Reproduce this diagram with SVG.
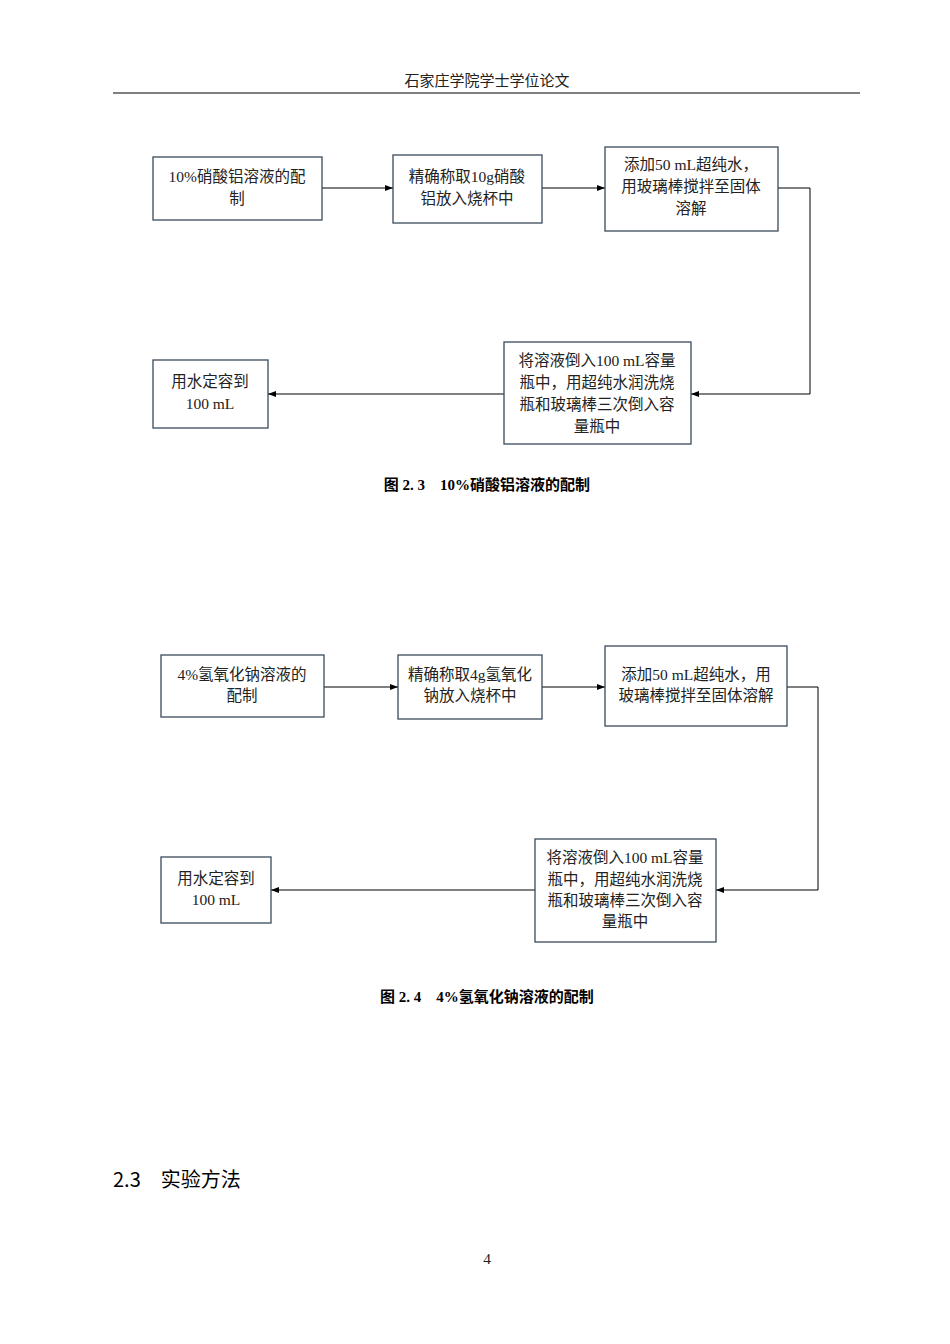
<svg xmlns="http://www.w3.org/2000/svg" width="950" height="1344" viewBox="0 0 950 1344">
<defs>
<marker id="ah" markerWidth="8" markerHeight="8" refX="8" refY="4" orient="auto" markerUnits="userSpaceOnUse"><path d="M0,1 L8,4 L0,7 Z" fill="#000"/></marker>
<style>
.b{fill:#fff;stroke:#3a4a5a;stroke-width:1.3}
.t{font-family:"Liberation Serif","Noto Sans CJK SC",serif;font-size:15.5px;fill:#222;text-anchor:middle}
.c{fill:none;stroke:#000;stroke-width:1;marker-end:url(#ah)}
.cap{font-family:"Liberation Serif","Noto Sans CJK SC",serif;font-size:15px;font-weight:bold;fill:#000;text-anchor:middle}
</style>
</defs>
<rect width="950" height="1344" fill="#fff"/>
<text x="487" y="86" class="t" style="font-size:15px">石家庄学院学士学位论文</text>
<line x1="113" y1="93" x2="860" y2="93" stroke="#000" stroke-width="1"/>
<g id="connectors">
<path class="c" d="M322,188 H393"/>
<path class="c" d="M542,188 H605"/>
<path class="c" d="M778,188 H810 V394 H691"/>
<path class="c" d="M504,394 H268"/>
<path class="c" d="M324,687 H398"/>
<path class="c" d="M542,687 H605"/>
<path class="c" d="M787,687 H818 V890 H716"/>
<path class="c" d="M535,890 H271"/>
</g>
<g id="n1a"><rect class="b" x="153" y="157" width="169" height="63"/><text class="t" x="237" y="182">10%硝酸铝溶液的配</text><text class="t" x="237" y="204">制</text></g>
<g id="n1b"><rect class="b" x="393" y="155" width="149" height="68"/><text class="t" x="467" y="182">精确称取10g硝酸</text><text class="t" x="467" y="204">铝放入烧杯中</text></g>
<g id="n1c"><rect class="b" x="605" y="147" width="173" height="84"/><text class="t" x="691" y="170">添加50 mL超纯水，</text><text class="t" x="691" y="192">用玻璃棒搅拌至固体</text><text class="t" x="691" y="214">溶解</text></g>
<g id="n1d"><rect class="b" x="504" y="342" width="187" height="102"/><text class="t" x="597" y="366">将溶液倒入100 mL容量</text><text class="t" x="597" y="388">瓶中，用超纯水润洗烧</text><text class="t" x="597" y="410">瓶和玻璃棒三次倒入容</text><text class="t" x="597" y="432">量瓶中</text></g>
<g id="n1e"><rect class="b" x="153" y="360" width="115" height="68"/><text class="t" x="210" y="387">用水定容到</text><text class="t" x="210" y="409">100 mL</text></g>
<text class="cap" x="487" y="490">图 2. 3　10%硝酸铝溶液的配制</text>
<g id="n2a"><rect class="b" x="161" y="655" width="163" height="62"/><text class="t" x="242" y="680">4%氢氧化钠溶液的</text><text class="t" x="242" y="701">配制</text></g>
<g id="n2b"><rect class="b" x="398" y="655" width="144" height="64"/><text class="t" x="470" y="680">精确称取4g氢氧化</text><text class="t" x="470" y="701">钠放入烧杯中</text></g>
<g id="n2c"><rect class="b" x="605" y="646" width="182" height="80"/><text class="t" x="696" y="680">添加50 mL超纯水，用</text><text class="t" x="696" y="701">玻璃棒搅拌至固体溶解</text></g>
<g id="n2d"><rect class="b" x="535" y="839" width="181" height="103"/><text class="t" x="625" y="863">将溶液倒入100 mL容量</text><text class="t" x="625" y="885">瓶中，用超纯水润洗烧</text><text class="t" x="625" y="906">瓶和玻璃棒三次倒入容</text><text class="t" x="625" y="927">量瓶中</text></g>
<g id="n2e"><rect class="b" x="161" y="857" width="110" height="66"/><text class="t" x="216" y="884">用水定容到</text><text class="t" x="216" y="905">100 mL</text></g>
<text class="cap" x="487" y="1002">图 2. 4　4%氢氧化钠溶液的配制</text>
<text x="113" y="1187" style="font-family:'Noto Sans CJK SC',sans-serif;font-size:20px;fill:#000">2.3　实验方法</text>
<text class="t" x="487" y="1264">4</text>
</svg>
